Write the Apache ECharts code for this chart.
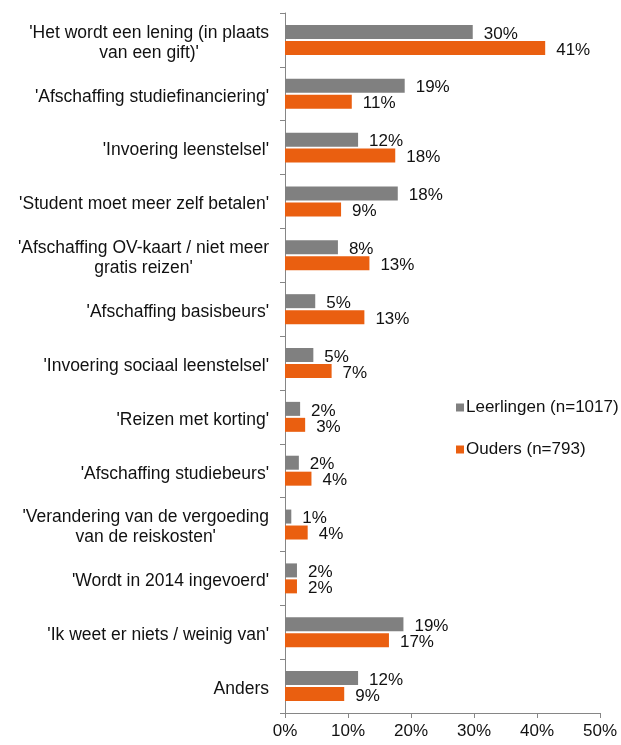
<!DOCTYPE html>
<html lang="nl">
<head>
    <meta charset="UTF-8">
    <title>Bekendheid leenstelsel</title>
    <script src="https://cdn.jsdelivr.net/npm/echarts@6/dist/echarts.min.js"></script>
    <style>
        html, body { margin: 0; padding: 0; background: #fff; }
        #main { width: 621px; height: 745px; }
    </style>
</head>
<body>
<div id="main"></div>
<script>
    // categorieen (van boven naar beneden)
    var categories = [
        "'Het wordt een lening (in plaats\nvan een gift)'",
        "'Afschaffing studiefinanciering'",
        "'Invoering leenstelsel'",
        "'Student moet meer zelf betalen'",
        "'Afschaffing OV-kaart / niet meer\ngratis reizen'",
        "'Afschaffing basisbeurs'",
        "'Invoering sociaal leenstelsel'",
        "'Reizen met korting'",
        "'Afschaffing studiebeurs'",
        "'Verandering van de vergoeding\nvan de reiskosten'",
        "'Wordt in 2014 ingevoerd'",
        "'Ik weet er niets / weinig van'",
        "Anders"
    ];
    var seriesNames = ['Leerlingen (n=1017)', 'Ouders (n=793)'];
    // percentages
    var leerlingen = [29.8, 19.0, 11.6, 17.9, 8.4, 4.8, 4.5, 2.4, 2.2, 1.0, 1.9, 18.8, 11.6];
    var ouders     = [41.3, 10.6, 17.5, 8.9, 13.4, 12.6, 7.4, 3.2, 4.2, 3.6, 1.9, 16.5, 9.4];
    var xTicks = [0, 10, 20, 30, 40, 50];

    var myChart = echarts.init(document.getElementById('main'));

    var valueLabel = {
        show: true,
        position: 'right',
        distance: 11,
        offset: [0, 2],
        color: '#111',
        fontFamily: 'Liberation Sans, Arial, sans-serif',
        fontSize: 17,
        formatter: function (p) { return Math.round(p.value) + '%'; }
    };

    var option = {
        animation: false,
        textStyle: { fontFamily: 'Liberation Sans, Arial, sans-serif' },
        grid: { left: 285, right: 21, top: 13, bottom: 32, containLabel: false },
        legend: {
            orient: 'vertical',
            left: 451,
            top: 394,
            itemWidth: 8,
            itemHeight: 8,
            itemGap: 25,
            icon: 'rect',
            textStyle: { fontSize: 17, color: '#111', padding: [0, 0, 0, -3] },
            data: seriesNames
        },
        xAxis: {
            type: 'value',
            min: xTicks[0],
            max: xTicks[xTicks.length - 1],
            interval: 10,
            axisLine: { show: true, lineStyle: { color: '#868686' } },
            axisTick: { show: true, length: 5, lineStyle: { color: '#868686' } },
            splitLine: { show: false },
            axisLabel: {
                margin: 10,
                fontSize: 17,
                color: '#111',
                formatter: '{value}%'
            }
        },
        yAxis: {
            type: 'category',
            inverse: true,
            data: categories,
            axisLine: { show: true, lineStyle: { color: '#868686' } },
            axisTick: { show: true, length: 5, lineStyle: { color: '#868686' } },
            axisLabel: {
                margin: 16,
                color: '#111',
                padding: [6, 0, 0, 0],
                formatter: function (v) { return '{c|' + v + '}'; },
                rich: { c: { align: 'center', fontSize: 17.5, lineHeight: 20, color: '#111' } }
            }
        },
        series: [
            {
                name: seriesNames[0],
                type: 'bar',
                data: leerlingen,
                barWidth: 14,
                barGap: '14%',
                itemStyle: { color: '#808080' },
                label: valueLabel
            },
            {
                name: seriesNames[1],
                type: 'bar',
                data: ouders,
                barWidth: 14,
                barGap: '14%',
                itemStyle: { color: '#ea5f10' },
                label: valueLabel
            }
        ]
    };
    myChart.setOption(option);
</script>
</body>
</html>
